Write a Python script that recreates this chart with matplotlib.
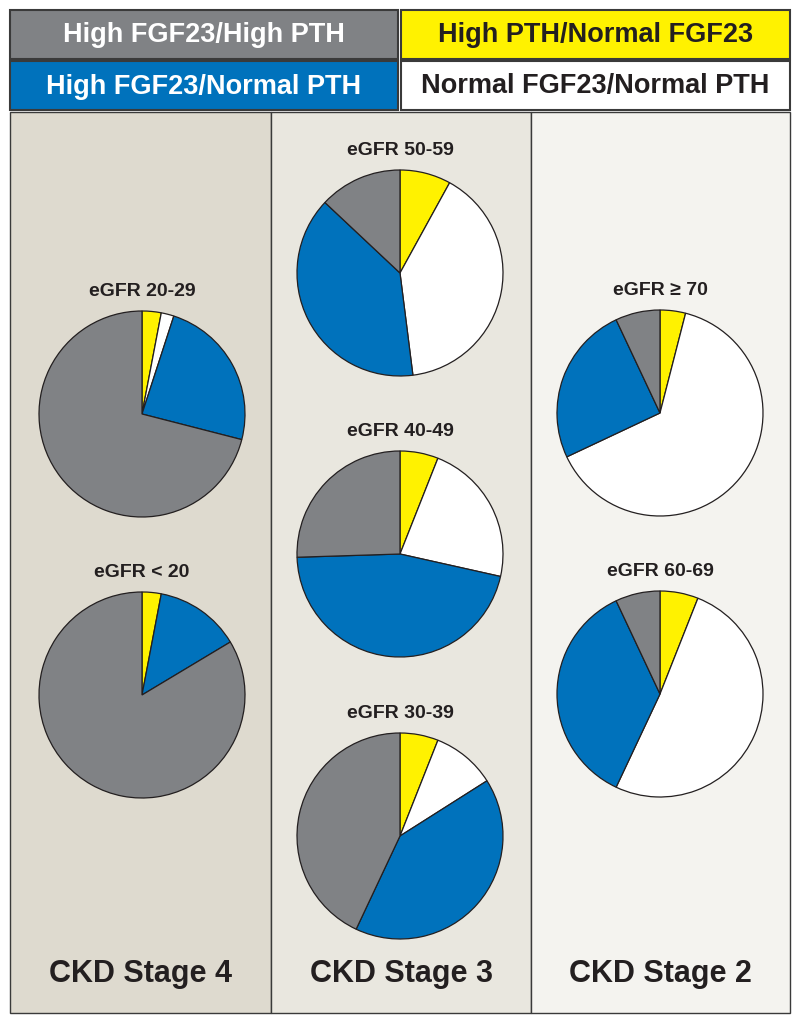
import matplotlib
matplotlib.use("Agg")
import matplotlib.pyplot as plt
from matplotlib.patches import Rectangle

plt.rcParams['font.family'] = ['Liberation Sans Narrow', 'Liberation Sans', 'DejaVu Sans']

# Legend categories and colours (order = clockwise from 12 o'clock)
categories = ["High PTH/Normal FGF23", "Normal FGF23/Normal PTH",
              "High FGF23/Normal PTH", "High FGF23/High PTH"]
colors = ["#fff200", "#ffffff", "#0072bc", "#808285"]

# Percent of patients per eGFR group
groups = ["eGFR 20-29", "eGFR < 20", "eGFR 50-59", "eGFR 40-49",
          "eGFR 30-39", "eGFR \u2265 70", "eGFR 60-69"]
yellow = [3, 3, 8, 6, 6, 4, 6]
white = [2, 0, 40, 22.5, 10, 64, 51]
blue = [24, 13.4, 39, 46, 41, 25, 36]
gray = [71, 83.6, 13, 25.5, 43, 7, 7]

stages = ["CKD Stage 4", "CKD Stage 3", "CKD Stage 2"]

# pie centres in pixel coords (x, y from top)
centers = [(142, 414), (142, 695), (400, 273), (400, 554), (400, 836),
           (660, 413), (660, 694)]
R = 103
H = 1024
TXT = "#231f20"

fig = plt.figure(figsize=(8, 10.24), dpi=100)
ax = fig.add_axes([0, 0, 1, 1])


def box(x0, top, w, h, fc, lw=1.0):
    ax.add_patch(Rectangle((x0, H - top - h), w, h, facecolor=fc,
                           edgecolor="#3a3a3a", linewidth=lw, zorder=0))


# stage panels
panel_cols = ["#dedacf", "#e9e7df", "#f4f3ef"]
panel_x = [10, 271, 531]
panel_w = [261, 260, 259]
for px, pw, pc, st in zip(panel_x, panel_w, panel_cols, stages):
    box(px, 112, pw, 901, pc)
    ax.text(px + pw / 2, H - 974, st, ha="center", va="center",
            fontsize=22, fontweight="bold", color=TXT)

# legend boxes
leg_pos = [(401, 10, 389, 49), (401, 61, 389, 49),
           (10, 61, 388, 49), (10, 10, 388, 49)]
leg_txt = [TXT, TXT, "white", "white"]
for (x0, top, w, h), cat, c, tc in zip(leg_pos, categories, colors, leg_txt):
    box(x0, top, w, h, c, lw=1.5)
    ax.text(x0 + w / 2, H - top - h / 2 - 1, cat, ha="center", va="center",
            fontsize=19.5, fontweight="bold", color=tc)

# pies
for i, (cx, cy) in enumerate(centers):
    vals = [yellow[i], white[i], blue[i], gray[i]]
    cols = [c for v, c in zip(vals, colors) if v > 0]
    vals = [v for v in vals if v > 0]
    ax.pie(vals, colors=cols, startangle=90, counterclock=False,
           center=(cx, H - cy), radius=R,
           wedgeprops=dict(edgecolor=TXT, linewidth=0.9))
    ax.text(cx, H - cy + R + 11, groups[i], ha="center", va="bottom",
            fontsize=14, fontweight="bold", color=TXT)

ax.set_xlim(0, 800)
ax.set_ylim(0, H)
ax.set_aspect("equal")
ax.axis("off")

fig.savefig("out.png", dpi=100, facecolor="white")
